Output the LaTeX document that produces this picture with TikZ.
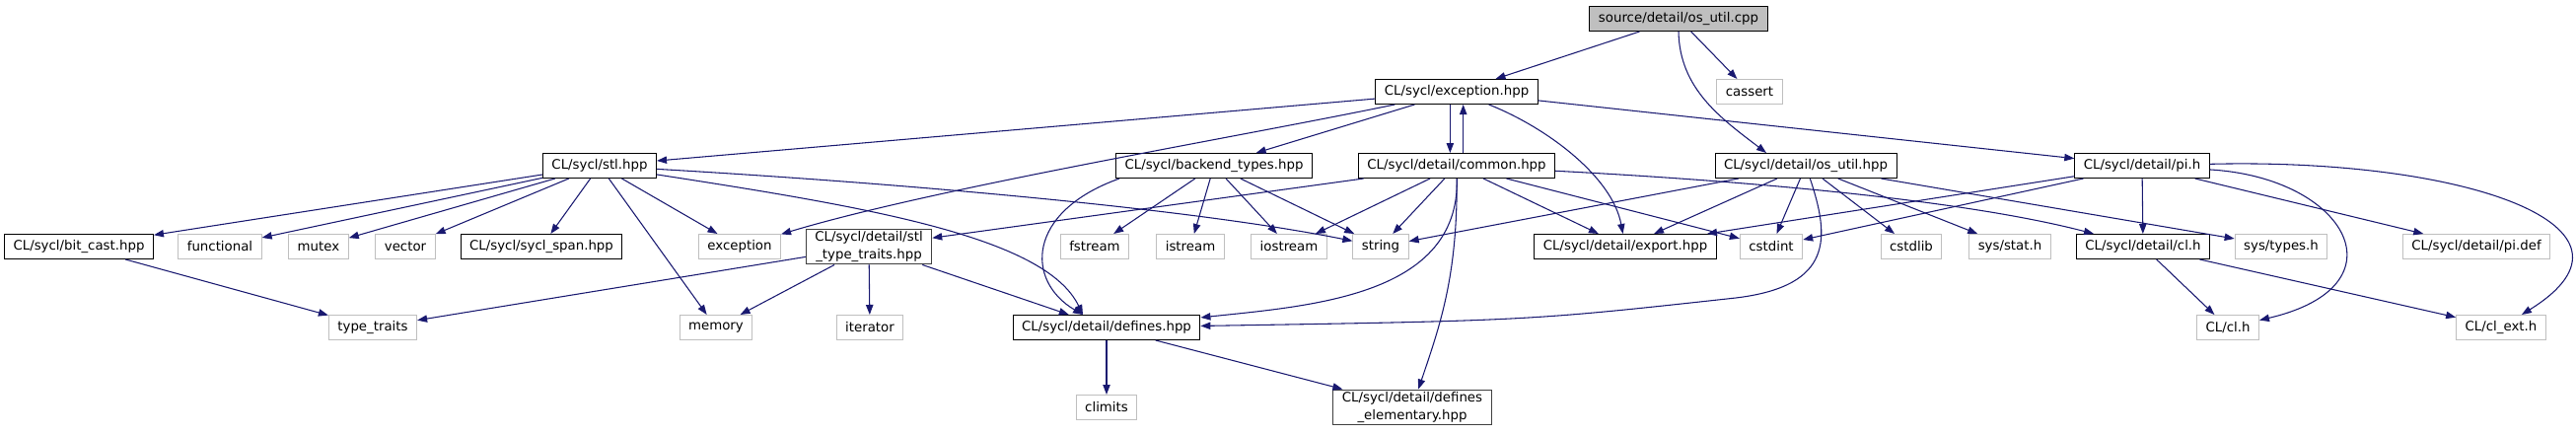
\documentclass[tikz,border=0pt]{standalone}
\usepackage{fontspec}
\setmainfont{DejaVu Sans}
\usetikzlibrary{arrows.meta}
\definecolor{edgeblue}{HTML}{191970}
\definecolor{extgray}{HTML}{BFBFBF}
\definecolor{rootgray}{HTML}{BFBFBF}

\begin{document}
\begin{tikzpicture}[x=0.75pt, y=-0.75pt,
        dep/.style={-{Triangle[length=7.5pt,width=5.5pt]}, draw=edgeblue, line width=0.8pt},
        file/.style={draw=black, fill=white, line width=0.75pt, font=\fontsize{10}{13}\selectfont, inner xsep=6.75pt, inner ysep=2pt, minimum height=18.75pt, align=center},
        sysfile/.style={file, draw=extgray},
        rootfile/.style={file, fill=rootgray},
        deepfile/.style={file, draw=black!75},
    ]
        \useasboundingbox (0,0) rectangle (2612,440);
        % rank 0 and 1
        \node[rootfile] (root)    at (1702,19)  {source/detail/os\_util.cpp};
        \node[file]     (exc)     at (1477,93)  {CL/sycl/exception.hpp};
        \node[sysfile]  (cassert) at (1774,93)  {cassert};
        % rank 2
        \node[file] (stl)     at (608,168)  {CL/sycl/stl.hpp};
        \node[file] (backend) at (1231,168) {CL/sycl/backend\_types.hpp};
        \node[file] (common)  at (1477,168) {CL/sycl/detail/common.hpp};
        \node[file] (osutilh) at (1831,168) {CL/sycl/detail/os\_util.hpp};
        \node[file] (pih)     at (2172,168) {CL/sycl/detail/pi.h};
        % rank 3
        \node[file]     (bitcast)    at (80,250)   {CL/sycl/bit\_cast.hpp};
        \node[sysfile]  (functional) at (223,250)  {functional};
        \node[sysfile]  (mutex)      at (323,250)  {mutex};
        \node[sysfile]  (vector)     at (411,250)  {vector};
        \node[file]     (span)       at (549,250)  {CL/sycl/sycl\_span.hpp};
        \node[sysfile]  (stdexc)     at (750,250)  {exception};
        \node[deepfile] (stltt)      at (881,250)  {CL/sycl/detail/stl\\\_type\_traits.hpp};
        \node[sysfile]  (fstream)    at (1110,250) {fstream};
        \node[sysfile]  (istream)    at (1207,250) {istream};
        \node[sysfile]  (iostream)   at (1307,250) {iostream};
        \node[sysfile]  (string)     at (1400,250) {string};
        \node[file]     (export)     at (1648,250) {CL/sycl/detail/export.hpp};
        \node[sysfile]  (cstdint)    at (1796,250) {cstdint};
        \node[sysfile]  (cstdlib)    at (1938,250) {cstdlib};
        \node[sysfile]  (stat)       at (2038,250) {sys/stat.h};
        \node[file]     (clh)        at (2173,250) {CL/sycl/detail/cl.h};
        \node[sysfile]  (types)      at (2313,250) {sys/types.h};
        \node[sysfile]  (pidef)      at (2511,250) {CL/sycl/detail/pi.def};
        % rank 4 and 5
        \node[sysfile]  (typetraits) at (378,332)  {type\_traits};
        \node[sysfile]  (memory)     at (726,332)  {memory};
        \node[sysfile]  (iterator)   at (882,332)  {iterator};
        \node[file]     (defines)    at (1122,332) {CL/sycl/detail/defines.hpp};
        \node[sysfile]  (clcl)       at (2259,332) {CL/cl.h};
        \node[sysfile]  (clext)      at (2536,332) {CL/cl\_ext.h};
        \node[sysfile]  (climits)    at (1122,413) {climits};
        \node[deepfile] (defelem)    at (1432,413) {CL/sycl/detail/defines\\\_elementary.hpp};

        % source file
        \draw[dep] (root) -- (exc);
        \draw[dep] (root) -- (cassert);
        \draw[dep] (root.south) .. controls (1703,90) and (1745,120) .. ([xshift=-30pt]osutilh.north);
        % exception.hpp
        \foreach \dst in {stl,backend,pih} { \draw[dep] (exc) -- (\dst); }
        \draw[dep] (exc) .. controls (1250,140) and (950,190) .. (stdexc);
        \draw[dep] ([xshift=-5pt]exc.south) -- ([xshift=-5pt]common.north);
        \draw[dep] ([xshift=5pt]common.north) -- ([xshift=5pt]exc.south);
        \draw[dep] (exc) .. controls (1570,130) and (1635,180) .. (export);
        % stl.hpp
        \foreach \dst in {bitcast,functional,mutex,vector,span,memory,stdexc} { \draw[dep] (stl) -- (\dst); }
        \draw[dep] (stl) .. controls (900,185) and (1200,210) .. (string);
        \draw[dep] (stl) .. controls (880,210) and (1060,240) .. ([xshift=-18pt]defines.north);
        % backend_types.hpp
        \foreach \dst in {fstream,istream,iostream,string} { \draw[dep] (backend) -- (\dst); }
        \draw[dep] ([xshift=3pt]backend.south west) .. controls (1040,215) and (1040,285) .. ([xshift=-18pt]defines.north);
        % common.hpp
        \foreach \dst in {stltt,iostream,string,export,cstdint} { \draw[dep] (common) -- (\dst); }
        \draw[dep] (common) .. controls (1480,300) and (1330,310) .. (defines);
        \draw[dep] (common) .. controls (1478,280) and (1460,330) .. (defelem);
        \draw[dep] (common) .. controls (1800,185) and (2000,205) .. (clh);
        % os_util.hpp
        \foreach \dst in {string,export,cstdint,cstdlib,stat,types} { \draw[dep] (osutilh) -- (\dst); }
        \draw[dep] (osutilh) .. controls (1855,240) and (1860,290) .. (1760,302) .. controls (1550,325) .. (defines);
        % pi.h
        \foreach \dst in {export,cstdint,clh,pidef} { \draw[dep] (pih) -- (\dst); }
        \draw[dep] (pih) .. controls (2380,180) and (2440,290) .. (clcl);
        \draw[dep] (pih) .. controls (2500,160) and (2700,230) .. (clext);
        % lower ranks
        \draw[dep] (bitcast) -- (typetraits);
        \foreach \dst in {typetraits,memory,iterator,defines} { \draw[dep] (stltt) -- (\dst); }
        \foreach \dst in {climits,defelem} { \draw[dep] (defines) -- (\dst); }
        \foreach \dst in {clcl,clext} { \draw[dep] (clh) -- (\dst); }
    \end{tikzpicture}
\end{document}
